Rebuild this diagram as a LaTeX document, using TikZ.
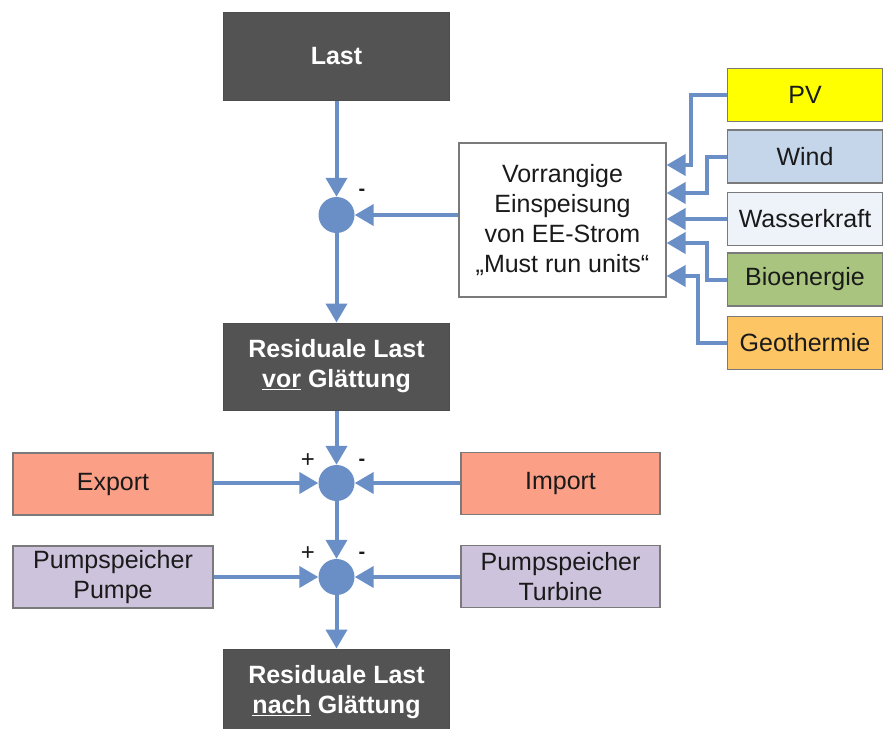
\documentclass[tikz,border=0pt]{standalone}
\usepackage{fontspec}
\setmainfont{Liberation Sans}
\usetikzlibrary{arrows.meta}
\definecolor{flow}{HTML}{6A8FC6}
\definecolor{darkbox}{HTML}{535353}
\definecolor{pvc}{HTML}{FFFF00}
\definecolor{windc}{HTML}{C5D5EA}
\definecolor{wasserc}{HTML}{EEF2F9}
\definecolor{bioc}{HTML}{A8C47E}
\definecolor{geoc}{HTML}{FDC564}
\definecolor{trade}{HTML}{FB9F86}
\definecolor{pump}{HTML}{CDC3DC}
\definecolor{edge}{HTML}{7A7A7A}
\definecolor{txt}{HTML}{1A1A1A}
\begin{document}
\begin{tikzpicture}[x=1pt,y=-1pt,
  every node/.style={font=\fontsize{25}{30}\selectfont, inner sep=0pt},
  darkn/.style={draw=black!70, line width=1pt, fill=darkbox, text=white, font=\fontsize{25}{30}\selectfont\bfseries, align=center, minimum width=226pt, minimum height=88pt},
  boxn/.style={draw=edge, line width=1.2pt, text=txt, align=center},
  srcn/.style={boxn, minimum width=155pt, minimum height=53pt},
  sidebox/.style={boxn, minimum width=200pt, minimum height=62pt},
  junction/.style={circle, fill=flow, minimum size=36pt},
  arr/.style={draw=flow, line width=4pt, -{Triangle[width=21pt,length=19pt]}},
  minus/.style={font=\fontsize{20}{24}\selectfont\bfseries, text=txt},
  plus/.style={font=\fontsize{24}{28}\selectfont, text=txt}]
\clip (0,0) rectangle (883,728);
\fill[white] (0,0) rectangle (883,728);

\node[darkn] (last) at (336.5,56) {Last};
\node[junction] (c1) at (336.5,215) {};
\node[boxn, fill=white, minimum width=207pt, minimum height=154pt] (vorr) at (562.5,220)
  {Vorrangige\\Einspeisung\\von EE-Strom\\„Must run units“};

\node[srcn, fill=pvc] (pv) at (805,95) {PV};
\node[srcn, fill=windc] (wind) at (805,156.5) {Wind};
\node[srcn, fill=wasserc] (wasser) at (805,219) {Wasserkraft};
\node[srcn, fill=bioc] (bio) at (805,279.5) {Bioenergie};
\node[srcn, fill=geoc] (geo) at (805,343) {Geothermie};

\node[darkn, minimum height=87pt] (vor) at (336.5,366.5) {Residuale Last\\\underline{vor} Glättung};
\node[junction] (c2) at (336.5,483) {};
\node[junction] (c3) at (336.5,577) {};

\node[sidebox, fill=trade] (export) at (113,484) {Export};
\node[sidebox, fill=pump] (pumpe) at (113,577) {Pumpspeicher\\Pumpe};
\node[sidebox, fill=trade, minimum width=199pt] (import) at (560.5,483.5) {Import};
\node[sidebox, fill=pump, minimum width=199pt] (turbine) at (560.5,576.5) {Pumpspeicher\\Turbine};

\node[darkn, minimum height=87pt] (nach) at (336.5,692.5) {Residuale Last\\\underline{nach} Glättung};

\node[minus] (m1) at (362,192) {-};
\node[plus] (p2) at (308,461) {+};
\node[minus] (m2) at (362,462) {-};
\node[plus] (p3) at (308,554) {+};
\node[minus] (m3) at (362,555) {-};

\draw[arr] (last.south) -- (c1.north);
\draw[arr] (vorr.west |- c1) -- (c1.east);
\draw[arr] (c1.south) -- (vor.north);

\draw[arr] (pv.west) -- ++(-36,0) |- (vorr.east |- 0,165);
\draw[arr] (wind.west) -- ++(-20,0) |- (vorr.east |- 0,193);
\draw[arr] (wasser.west) -- (vorr.east |- wasser.west);
\draw[arr] (bio.west) -- ++(-20,0) |- (vorr.east |- 0,243);
\draw[arr] (geo.west) -- ++(-29,0) |- (vorr.east |- 0,276);

\draw[arr] (vor.south) -- (c2.north);
\draw[arr] (export.east |- c2) -- (c2.west);
\draw[arr] (import.west |- c2) -- (c2.east);
\draw[arr] (c2.south) -- (c3.north);
\draw[arr] (pumpe.east |- c3) -- (c3.west);
\draw[arr] (turbine.west |- c3) -- (c3.east);
\draw[arr] (c3.south) -- (nach.north);
\end{tikzpicture}
\end{document}
